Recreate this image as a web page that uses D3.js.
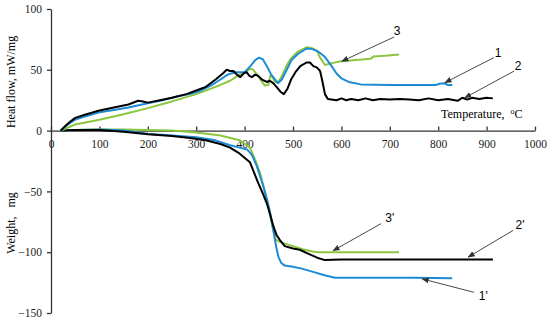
<!DOCTYPE html>
<html>
<head>
<meta charset="utf-8">
<script src="https://cdn.jsdelivr.net/npm/d3@7"></script>
<style>
  body { margin: 0; background: #fff; }
  text { font-family: "Liberation Serif", "Times New Roman", serif; }
</style>
</head>
<body>
<svg id="svg1" width="550" height="320"></svg>
<script>
// temperature (C), value
var heat1 = [[20,0],[35,5],[50,9],[70,11.5],[100,15],[130,17],[160,19],[200,22.5],[230,25],[260,28],[290,30.5],[310,33],[330,37],[350,42],[365,46],[380,48],[400,48],[412,53],[422,58],[430,60],[438,58.5],[446,53],[455,46],[463,42],[469,39],[477,42],[487,50],[497,58],[510,63],[528,67.5],[540,67],[552,65],[565,61],[578,54],[590,47],[600,43],[615,40],[640,38],[700,37.5],[760,37.5],[795,37.5],[803,38.5],[812,39],[820,37.5],[829,37.5]];
var heat2 = [[20,0],[30,4],[40,7.5],[50,10.5],[70,13],[100,16.5],[130,19],[160,21.5],[180,24.5],[190,24],[200,23],[220,24.5],[250,27],[280,30],[300,33],[320,36],[340,42],[355,47],[363,50],[370,49],[377,49],[384,46],[391,44],[398,47],[404,48],[410,45],[415,44],[422,46],[428,45],[436,42],[446,40],[452,41],[459,39],[466,36],[474,32],[481,30],[488,34],[496,42],[505,48],[515,53],[528,56],[535,56],[542,53],[549,52],[556,49],[561,40],[566,30],[572,26],[590,25],[600,26.5],[610,25],[620,26],[635,25],[650,26.5],[665,25],[680,26],[700,25.5],[720,26],[740,25.5],[760,25],[780,26.5],[800,25],[820,26],[840,24.5],[850,27],[860,25.5],[870,27],[885,26],[900,27],[913,26.5]];
var heat3 = [[20,0],[50,5],[100,9],[150,13.5],[200,18.5],[250,24],[300,30],[340,36],[370,41],[390,46],[405,49],[411,51],[418,50],[428,45],[436,40],[442,37],[449,37.5],[453,45],[458,44],[463,40],[469,39.5],[476,44],[485,52],[495,59],[510,65],[528,68.5],[538,68],[549,66],[556,60],[566,54],[580,55.5],[600,57],[630,58],[660,59],[667,61],[690,61.5],[719,62.5]];
var weight1 = [[20,0],[50,0.5],[100,1],[150,0],[200,-2.5],[250,-4],[300,-5.5],[340,-8],[370,-12],[390,-14],[405,-15.5],[415,-20],[425,-29],[435,-41],[446,-56],[453,-68],[459,-81],[465,-95],[470,-104],[476,-109],[483,-111],[500,-112],[518,-113.5],[540,-116],[565,-119],[587,-121],[650,-121],[750,-121],[829,-121.5]];
var weight2 = [[20,0],[50,0.5],[100,0.5],[150,-1],[200,-3],[250,-4.5],[287,-6],[320,-8],[350,-11],[370,-14],[390,-19],[411,-26],[428,-43],[438,-52],[446,-60],[452,-68],[459,-78],[466,-86],[473,-90],[483,-95],[500,-97],[514,-98],[530,-101],[550,-104.5],[566,-106.5],[600,-106],[700,-106],[800,-106],[913,-106]];
var weight3 = [[20,0],[50,0.5],[100,1],[150,1],[200,0.5],[250,0],[300,-1.5],[350,-4],[390,-8],[411,-14],[422,-24],[432,-35],[442,-50],[452,-68],[458,-80],[463,-89],[470,-91],[480,-92.5],[500,-95],[520,-97.5],[540,-99.5],[552,-100],[600,-100],[650,-100],[719,-100]];

var xTicks = [0, 100, 200, 300, 400, 500, 600, 700, 800, 900, 1000];
var yTicks = [100, 50, 0, -50, -100, -150];

// label, label pos [T, v], arrow from, arrow to
var notes = [
  ["3", [715, 81.5], [709, 77], [601, 57]],
  ["1", [924, 64], [915, 60], [814, 39.5]],
  ["2", [965, 53.5], [957, 49], [855, 27]],
  ["3'", [700, -72], [682, -76.5], [583, -98.7]],
  ["2'", [969, -78], [955, -82], [862, -104]],
  ["1'", [893, -136], [874, -133], [767, -122]]
];

var blue = "#1d8ad6", black = "#000", green = "#8cc63f";

var svg = d3.select("#svg1");
var x = d3.scaleLinear().domain([0, 1000]).range([51, 535]);
var y = d3.scaleLinear().domain([-150, 100]).range([313, 9]);

var line = d3.line()
  .x(function(d) { return x(d[0]); })
  .y(function(d) { return y(d[1]); });

// y axis
var gy = svg.append("g")
  .attr("transform", "translate(" + x(0) + ",0)")
  .call(d3.axisLeft(y).tickValues(yTicks).tickSize(4).tickSizeOuter(0).tickPadding(5));
gy.select(".domain").attr("stroke", "#333").attr("stroke-width", 1.3);
gy.selectAll(".tick line").attr("stroke", "#333").attr("stroke-width", 1.3);
gy.selectAll("text").attr("font-size", 11.5).attr("fill", "#222")
  .style("font-family", "Liberation Serif");

// x axis at zero
var gx = svg.append("g")
  .attr("transform", "translate(0," + y(0) + ")")
  .call(d3.axisBottom(x).tickValues(xTicks).tickFormat(d3.format("d"))
    .tickSizeInner(-4).tickSizeOuter(0).tickPadding(9));
gx.select(".domain").attr("stroke", "#333").attr("stroke-width", 1.3);
gx.selectAll(".tick line").attr("stroke", "#333").attr("stroke-width", 1.3);
gx.selectAll("text").attr("font-size", 11.5).attr("fill", "#222")
  .style("font-family", "Liberation Serif");

// axis titles
svg.append("text")
  .attr("transform", "translate(15," + y(40) + ") rotate(-90)")
  .attr("text-anchor", "middle")
  .attr("font-size", 12)
  .text("Heat flow, mW/mg");
svg.append("text")
  .attr("transform", "translate(15," + y(-76) + ") rotate(-90)")
  .attr("text-anchor", "middle")
  .attr("font-size", 12)
  .attr("xml:space", "preserve")
  .text("Weight,   mg");
var tt = svg.append("text")
  .attr("x", x(890))
  .attr("y", y(10))
  .attr("text-anchor", "middle")
  .attr("font-size", 12)
  .attr("xml:space", "preserve")
  .text("Temperature,  ");
tt.append("tspan").attr("font-size", 8).attr("dy", -4).text("o");
tt.append("tspan").attr("dy", 4).text("C");

// curves
[[weight3, green], [weight1, blue], [weight2, black],
 [heat3, green], [heat1, blue], [heat2, black]].forEach(function(s) {
  svg.append("path")
    .datum(s[0])
    .attr("fill", "none")
    .attr("stroke", s[1])
    .attr("stroke-width", 2)
    .attr("stroke-linejoin", "round")
    .attr("d", line);
});

// arrows
svg.append("defs").append("marker")
  .attr("id", "arr")
  .attr("viewBox", "0 0 10 10")
  .attr("refX", 9).attr("refY", 5)
  .attr("markerWidth", 8).attr("markerHeight", 8)
  .attr("orient", "auto")
  .append("path")
  .attr("d", "M0,1 L10,5 L0,9 Z")
  .attr("fill", "#333");

notes.forEach(function(n) {
  svg.append("line")
    .attr("x1", x(n[2][0])).attr("y1", y(n[2][1]))
    .attr("x2", x(n[3][0])).attr("y2", y(n[3][1]))
    .attr("stroke", "#333")
    .attr("stroke-width", 0.9)
    .attr("marker-end", "url(#arr)");
  svg.append("text")
    .attr("x", x(n[1][0])).attr("y", y(n[1][1]))
    .attr("text-anchor", "middle")
    .attr("dominant-baseline", "central")
    .attr("font-size", 12)
    .style("font-family", "Liberation Sans, sans-serif")
    .text(n[0]);
});
</script>
</body>
</html>
